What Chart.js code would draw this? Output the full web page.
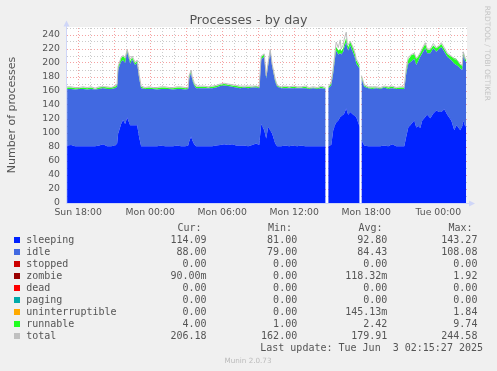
<!DOCTYPE html>
<html>
<head>
<meta charset="utf-8">
<title>Processes - by day</title>
<script src="https://cdn.jsdelivr.net/npm/chart.js@4.4.1/dist/chart.umd.min.js"></script>
<style>
    html, body { margin: 0; padding: 0; background: #f0f0f0; }
    canvas { display: block; }
</style>
</head>
<body>
<canvas id="procChart" width="497" height="371"></canvas>
<script>
// minutes after Sun 18:00 (munin samples every 5 min), null = no data
const times = [
    -55, -35, -15, 5, 25, 45, 65, 85, 105, 125, 145, 165, 185,
    195, 200, 215, 225, 235, 245, 260, 270, 285, 295, 305, 315,
    335, 355, 375, 395, 415, 435, 455, 475, 495, 515, 535, 550,
    555, 565, 570, 580, 590,
    610, 630, 650, 670, 690, 710, 730, 750, 770, 790, 810, 830, 850, 870, 890, 905,
    915, 930, 940, 950, 960, 970, 985, 995,
    1015, 1035, 1055, 1075, 1095, 1115, 1135, 1155, 1175, 1195, 1215, 1237,
    1243,
    1250, 1265, 1275, 1285, 1290, 1300, 1310, 1315, 1325, 1330, 1340, 1345, 1350, 1360, 1375, 1385, 1390, 1407,
    1411,
    1416, 1430, 1450, 1470, 1490, 1510, 1530, 1550, 1570, 1590, 1610, 1630,
    1640, 1650, 1660, 1665, 1680, 1690, 1700, 1710, 1720, 1735, 1745, 1760, 1775, 1790,
    1805, 1815, 1830, 1845, 1865, 1880, 1890, 1900, 1910, 1920, 1925, 1935, 1940
];
const sleeping = [
    82, 83, 81, 81, 81, 81, 81, 81, 82, 84, 81, 81, 82,
    85, 99, 113, 119, 113, 122, 111, 111, 111, 111, 94, 81,
    81, 81, 81, 81, 82, 81, 81, 81, 82, 81, 81, 82,
    88, 95, 90, 84, 81,
    81, 81, 81, 81, 82, 83, 84, 83, 84, 82, 82, 82, 81, 83, 85, 83,
    113, 104, 92, 109, 104, 99, 85, 81,
    81, 82, 81, 82, 81, 82, 81, 81, 81, 81, 81, 81,
    null,
    81, 83, 104, 112, 115, 118, 123, 124, 126, 128, 135, 130, 126, 130, 126, 124, 123, 109,
    null,
    90, 82, 81, 81, 81, 81, 82, 81, 84, 81, 81, 81,
    95, 108, 111, 113, 118, 108, 110, 107, 118, 123, 126, 121, 128, 132,
    130, 130, 134, 126, 118, 104, 111, 108, 104, 110, 118, 109, 114
];
const idle = [
    81, 80, 81, 82, 82, 81, 82, 81, 81, 80, 82, 82, 82,
    81, 91, 89, 85, 87, 94, 88, 94, 86, 89, 84, 83,
    82, 82, 82, 81, 81, 82, 82, 81, 81, 82, 81, 81,
    90, 91, 86, 84, 83,
    83, 83, 83, 83, 83, 84, 84, 84, 82, 83, 82, 83, 83, 82, 80, 81,
    92, 105, 86, 88, 112, 96, 88, 85,
    83, 82, 83, 82, 83, 82, 83, 82, 83, 82, 83, 82,
    null,
    83, 85, 81, 97, 103, 94, 91, 88, 90, 94, 95, 92, 92, 95, 88, 82, 76, 83,
    null,
    88, 84, 83, 82, 83, 82, 83, 82, 80, 82, 82, 82,
    90, 91, 90, 89, 88, 89, 93, 102, 96, 98, 88, 93, 93, 84,
    90, 93, 82, 83, 86, 95, 86, 87, 88, 80, 93, 93, 88
];
const runnable = [
    2, 2, 2, 1, 2, 2, 2, 1, 2, 2, 2, 2, 2,
    3, 4, 5, 6, 6, 3, 4, 3, 3, 3, 3, 2,
    1, 2, 1, 2, 2, 2, 1, 2, 2, 2, 2, 1,
    3, 3, 3, 2, 2,
    2, 2, 1, 2, 2, 2, 2, 2, 2, 2, 2, 1, 2, 1, 2, 1,
    4, 3, 3, 3, 2, 2, 3, 2,
    1, 2, 1, 2, 1, 1, 2, 1, 1, 1, 2, 1,
    null,
    1, 3, 5, 6, 5, 6, 6, 5, 5, 5, 6, 5, 5, 6, 6, 5, 5, 3,
    null,
    3, 2, 1, 2, 1, 1, 1, 2, 2, 1, 2, 2,
    5, 6, 8, 9, 7, 9, 6, 5, 6, 6, 5, 5, 4, 5,
    4, 4, 4, 4, 5, 8, 9, 7, 6, 6, 4, 3, 4
];
const total = [
    166, 166, 165, 165, 166, 165, 166, 164, 166, 166, 166, 165, 167,
    170, 195, 208, 211, 207, 219, 205, 210, 201, 204, 183, 167,
    165, 166, 165, 165, 166, 166, 165, 165, 166, 166, 165, 165,
    182, 190, 180, 172, 167,
    167, 167, 166, 167, 168, 170, 171, 170, 169, 168, 167, 167, 167, 167, 167, 166,
    210, 213, 182, 201, 219, 198, 177, 168,
    166, 167, 166, 167, 166, 166, 167, 165, 166, 165, 167, 165,
    null,
    166, 172, 192, 218, 230, 222, 233, 220, 226, 234, 244, 229, 226, 231, 222, 213, 206, 197,
    null,
    182, 169, 166, 166, 166, 165, 167, 166, 167, 165, 166, 166,
    192, 208, 211, 212, 214, 207, 210, 215, 221, 229, 220, 220, 228, 222,
    225, 229, 222, 214, 210, 206, 205, 202, 198, 197, 216, 206, 206
];

// axis labels
const xTickMinutes = [0, 360, 720, 1080, 1440, 1800];
const xTickLabels = ['Sun 18:00', 'Mon 00:00', 'Mon 06:00', 'Mon 12:00', 'Mon 18:00', 'Tue 00:00'];

// legend table
const legendNames = ['sleeping', 'idle', 'stopped', 'zombie', 'dead', 'paging', 'uninterruptible', 'runnable', 'total'];
const legendColors = ['#0022ff', '#4169e1', '#cc0000', '#990000', '#ff0000', '#00aaaa', '#ffaa00', '#22ff22', '#c0c0c0'];
const curValues = ['114.09', '88.00', '0.00', '90.00m', '0.00', '0.00', '0.00', '4.00', '206.18'];
const minValues = ['81.00', '79.00', '0.00', '0.00', '0.00', '0.00', '0.00', '1.00', '162.00'];
const avgValues = ['92.80', '84.43', '0.00', '118.32m', '0.00', '0.00', '145.13m', '2.42', '179.91'];
const maxValues = ['143.27', '108.08', '0.00', '1.92', '0.00', '0.00', '1.84', '9.74', '244.58'];

const TEXT = '#555555';
const RED_GRID = 'rgba(235, 70, 70, 0.5)';
const GREY_GRID = 'rgba(175, 175, 175, 0.65)';
const AXIS = '#cfd6f8';

function pts(values) {
    return times.map((t, k) => ({ x: t, y: values[k] }));
}

const muninDecor = {
    id: 'muninDecor',
    beforeDraw(chart) {
        const { ctx, chartArea: a } = chart;
        ctx.save();
        ctx.fillStyle = '#ffffff';
        ctx.fillRect(a.left, a.top - 1, a.right - a.left, a.bottom - a.top + 1);
        ctx.restore();
    },
    afterDraw(chart) {
        const { ctx, chartArea: a } = chart;
        ctx.save();

        // axes + arrows
        ctx.strokeStyle = AXIS;
        ctx.fillStyle = AXIS;
        ctx.lineWidth = 1;
        ctx.beginPath();
        ctx.moveTo(a.left - 0.5, a.bottom + 0.5);
        ctx.lineTo(a.left - 0.5, 24);
        ctx.moveTo(a.left - 0.5, a.bottom + 0.5);
        ctx.lineTo(471, a.bottom + 0.5);
        ctx.stroke();
        ctx.beginPath();
        ctx.moveTo(a.left - 3.5, 26.5);
        ctx.lineTo(a.left + 2.5, 26.5);
        ctx.lineTo(a.left - 0.5, 20.5);
        ctx.closePath();
        ctx.fill();
        ctx.beginPath();
        ctx.moveTo(469, a.bottom - 2.5);
        ctx.lineTo(469, a.bottom + 3.5);
        ctx.lineTo(475, a.bottom + 0.5);
        ctx.closePath();
        ctx.fill();

        // title
        ctx.fillStyle = TEXT;
        ctx.textBaseline = 'alphabetic';
        ctx.textAlign = 'center';
        ctx.font = '12.7px "DejaVu Sans"';
        ctx.fillText('Processes - by day', 248.5, 24);

        // vertical axis title
        ctx.save();
        ctx.translate(15, 115);
        ctx.rotate(-Math.PI / 2);
        ctx.font = '11px "DejaVu Sans"';
        ctx.fillText('Number of processes', 0, 0);
        ctx.restore();

        // rrdtool watermark
        ctx.save();
        ctx.translate(484.8, 53.3);
        ctx.rotate(Math.PI / 2);
        ctx.fillStyle = '#c4c4c4';
        ctx.font = '7.4px "DejaVu Sans"';
        ctx.fillText('RRDTOOL / TOBI OETIKER', 0, 0);
        ctx.restore();

        // legend table
        ctx.font = '10px "DejaVu Sans Mono"';
        ctx.fillStyle = TEXT;
        ctx.textAlign = 'right';
        const headRight = [201.5, 292, 382.5, 472.5];
        ['Cur:', 'Min:', 'Avg:', 'Max:'].forEach((h, c) => ctx.fillText(h, headRight[c], 230.5));
        const colRight = [206.5, 297.2, 387.3, 477.4];
        const cols = [curValues, minValues, avgValues, maxValues];
        legendNames.forEach((name, r) => {
            const base = 242.7 + r * 12;
            ctx.fillStyle = legendColors[r];
            ctx.fillRect(14, Math.round(base) - 6, 6, 6);
            ctx.fillStyle = TEXT;
            ctx.textAlign = 'left';
            ctx.fillText(name, 26.2, base);
            ctx.textAlign = 'right';
            cols.forEach((col, c) => ctx.fillText(col[r], colRight[c], base));
        });
        ctx.fillText('Last update: Tue Jun  3 02:15:27 2025', 483, 242.7 + 9 * 12);

        ctx.textAlign = 'center';
        ctx.fillStyle = '#bbbbbb';
        ctx.font = '7.2px "DejaVu Sans"';
        ctx.fillText('Munin 2.0.73', 248, 363);

        ctx.restore();
    }
};

const gridMinutes = [];
for (let m = 0; m <= 1920; m += 60) gridMinutes.push(m);
const gridValues = [];
for (let v = 0; v <= 250; v += 10) gridValues.push(v);

Chart.defaults.font.family = '"DejaVu Sans"';

new Chart(document.getElementById('procChart').getContext('2d'), {
    type: 'line',
    data: {
        datasets: [
            {
                label: 'total',
                data: pts(total),
                stack: 'total',
                borderColor: '#bdbdbd',
                borderWidth: 1,
                fill: false
            },
            {
                label: 'sleeping',
                data: pts(sleeping),
                stack: 'procs',
                backgroundColor: '#0022ff',
                borderColor: 'rgba(0,0,0,0)',
                borderWidth: 0,
                fill: 'origin'
            },
            {
                label: 'idle',
                data: pts(idle),
                stack: 'procs',
                backgroundColor: '#4169e1',
                borderColor: 'rgba(0,0,0,0)',
                borderWidth: 0,
                fill: '-1'
            },
            {
                label: 'runnable',
                data: pts(runnable),
                stack: 'procs',
                backgroundColor: '#22ff22',
                borderColor: 'rgba(0,0,0,0)',
                borderWidth: 0,
                fill: '-1'
            }
        ]
    },
    options: {
        responsive: false,
        animation: false,
        events: [],
        layout: { padding: { left: 0, top: 28, right: 30, bottom: 0 } },
        elements: { point: { radius: 0 }, line: { tension: 0 } },
        plugins: {
            legend: { display: false },
            tooltip: { enabled: false },
            title: { display: false }
        },
        scales: {
            x: {
                type: 'linear',
                min: -55.5,
                max: 1943.5,
                z: 1,
                afterBuildTicks: s => { s.ticks = gridMinutes.map(v => ({ value: v })); },
                afterFit: s => { s.height = 168; },
                grid: {
                    drawTicks: false,
                    color: c => (c.tick && c.tick.value % 180 === 0 ? RED_GRID : GREY_GRID)
                },
                border: { display: false, dash: [1, 2] },
                ticks: {
                    autoSkip: false,
                    maxRotation: 0,
                    padding: 4,
                    color: TEXT,
                    font: { size: 9.3 },
                    callback: v => {
                        const k = xTickMinutes.indexOf(v);
                        return k >= 0 ? xTickLabels[k] : '';
                    }
                }
            },
            y: {
                stacked: true,
                min: 0,
                max: 250,
                z: 1,
                afterBuildTicks: s => { s.ticks = gridValues.map(v => ({ value: v })); },
                afterFit: s => { s.width = 67; },
                grid: {
                    drawTicks: false,
                    color: c => (c.tick && c.tick.value % 20 === 0 ? RED_GRID : GREY_GRID)
                },
                border: { display: false, dash: [1, 2] },
                ticks: {
                    autoSkip: false,
                    padding: 7,
                    color: TEXT,
                    font: { size: 9.3 },
                    callback: v => (v % 20 === 0 ? v : '')
                }
            }
        }
    },
    plugins: [muninDecor]
});
</script>
</body>
</html>
